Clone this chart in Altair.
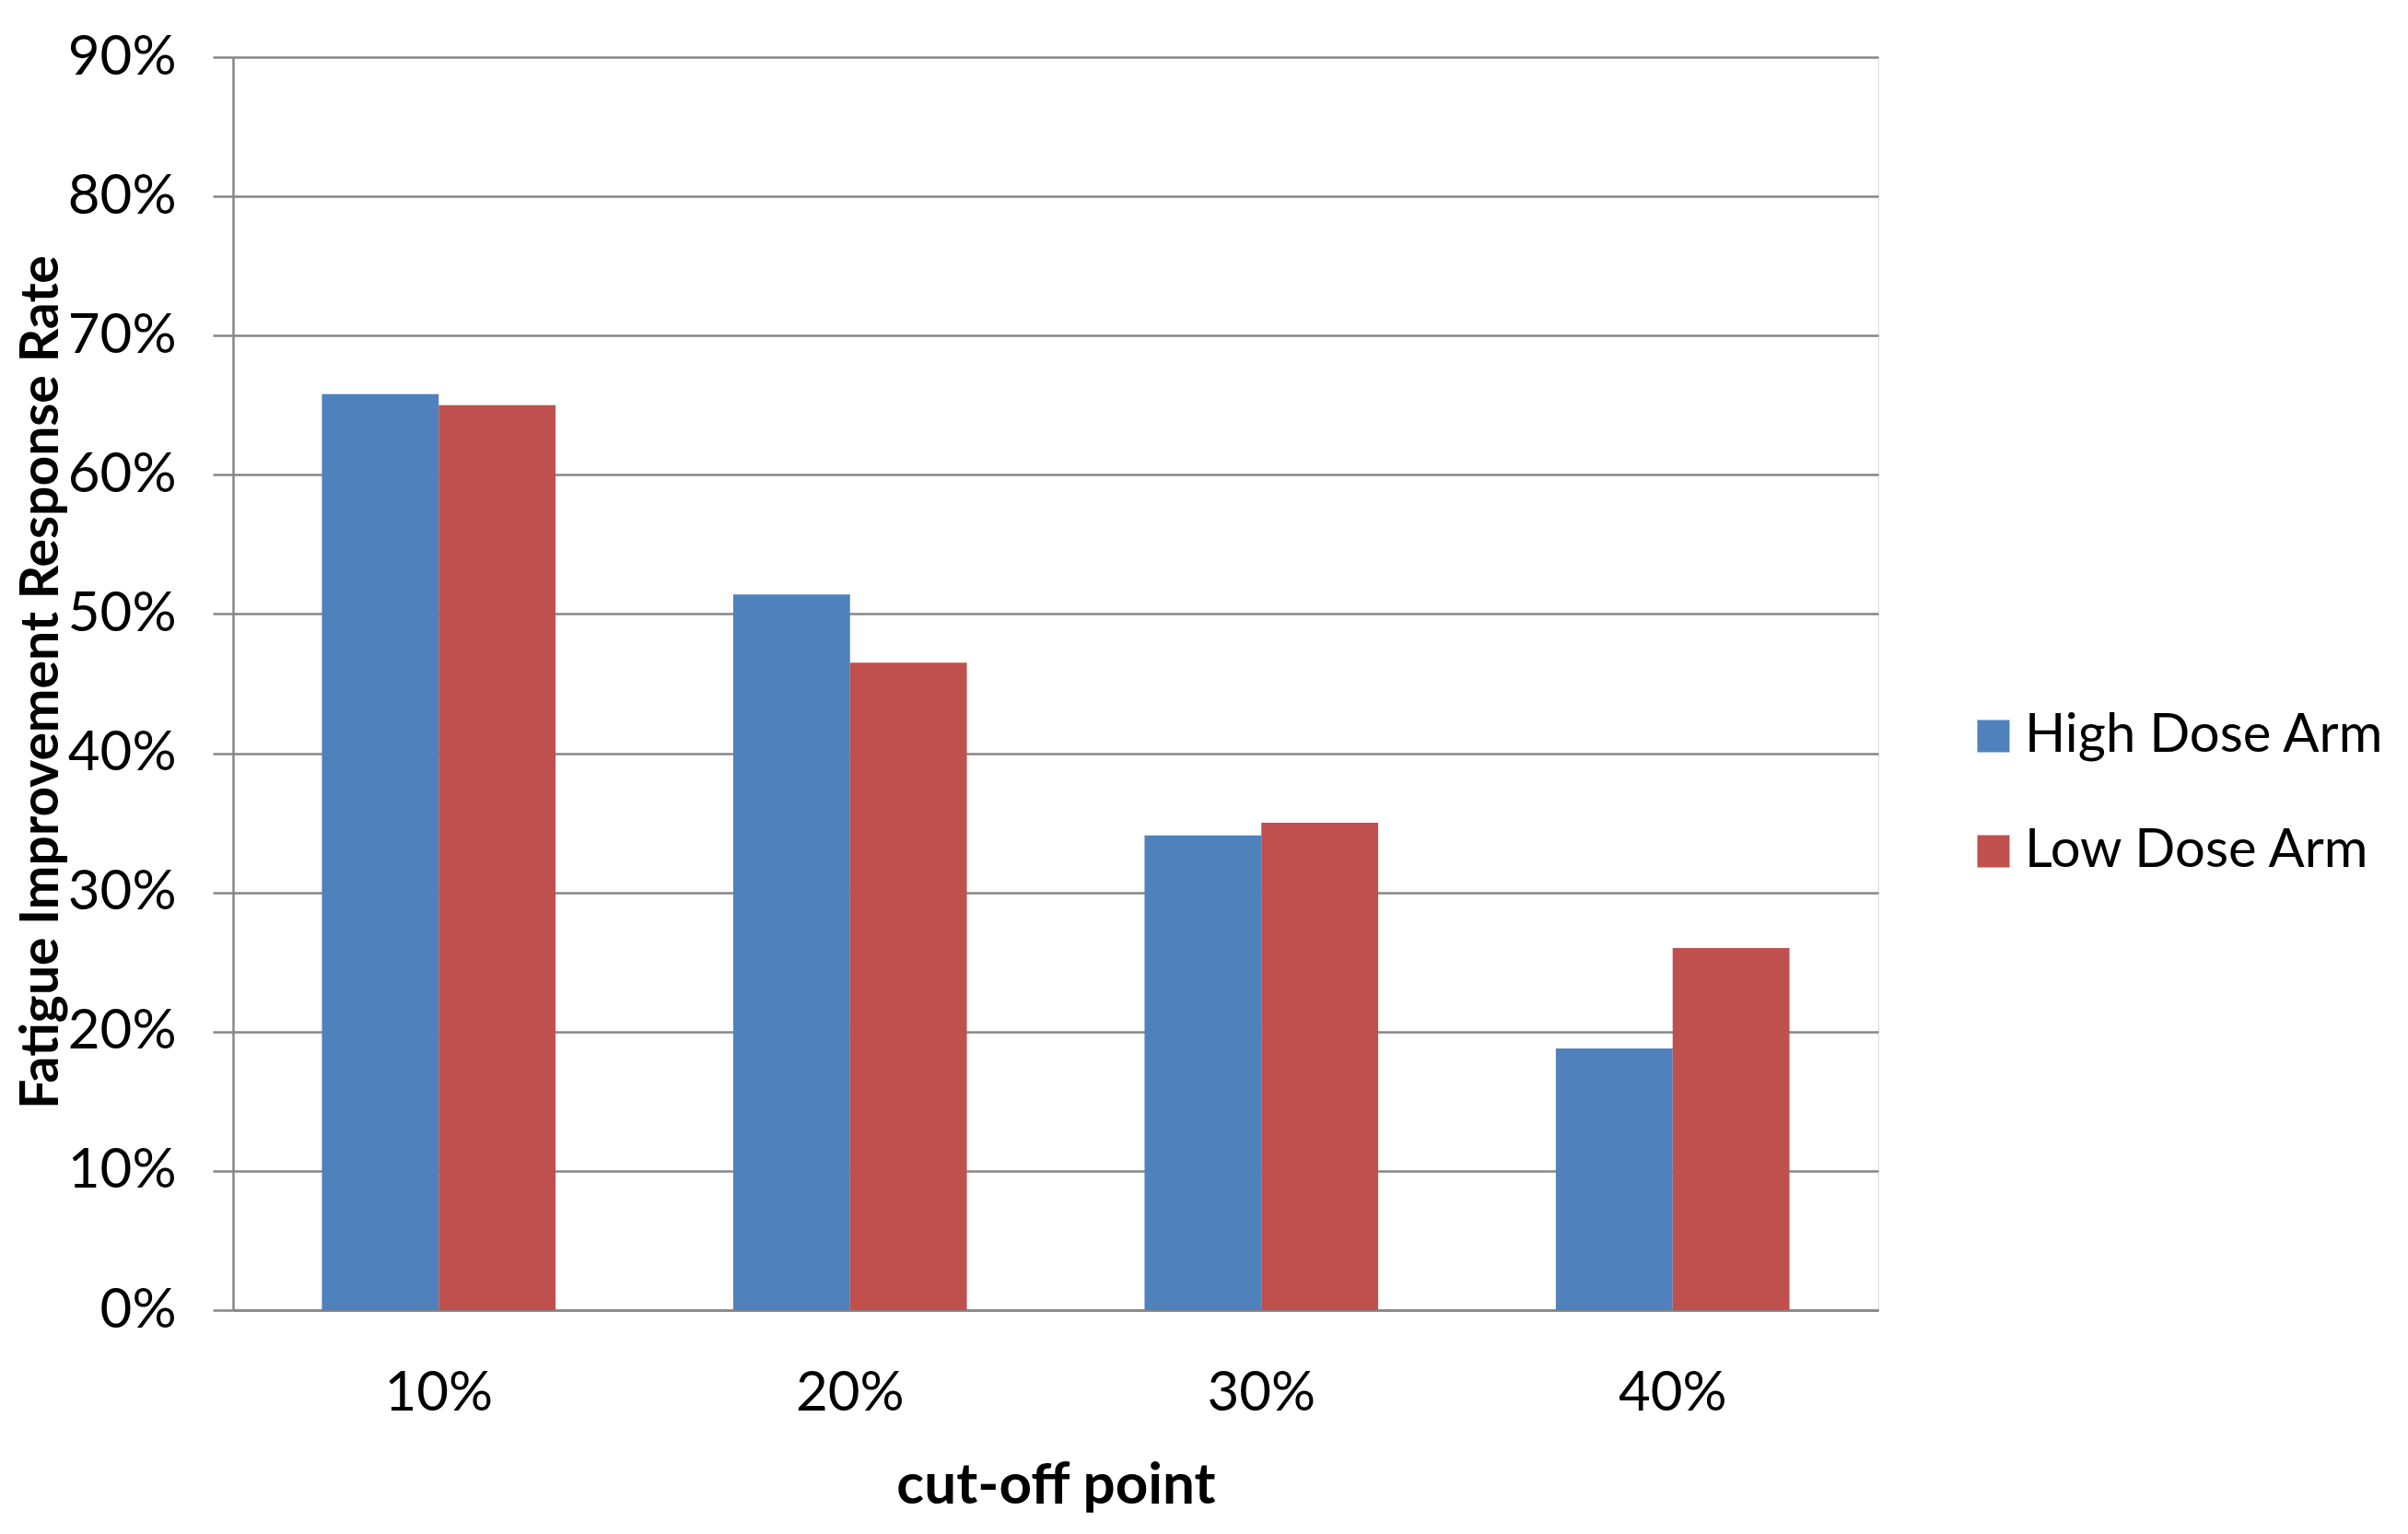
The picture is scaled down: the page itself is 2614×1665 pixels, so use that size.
import altair as alt
import pandas as pd

cutoffs = ["10%", "20%", "30%", "40%"]
arms = ["High Dose Arm", "Low Dose Arm"]
high_dose = [0.658, 0.514, 0.341, 0.188]
low_dose = [0.650, 0.465, 0.350, 0.260]
arm_colors = ["#4F81BD", "#C0504D"]
y_ticks = [0.0, 0.1, 0.2, 0.3, 0.4, 0.5, 0.6, 0.7, 0.8, 0.9]

rows = []
for c, h, l in zip(cutoffs, high_dose, low_dose):
    rows.append({"cutoff": c, "arm": arms[0], "rate": h})
    rows.append({"cutoff": c, "arm": arms[1], "rate": l})
df = pd.DataFrame(rows)

FONT = "Lato"
GRID = "#868686"

chart = alt.Chart(df).mark_bar().encode(
    x=alt.X(
        "cutoff:N",
        sort=cutoffs,
        scale=alt.Scale(paddingInner=0.432, paddingOuter=0.216),
        axis=alt.Axis(
            title="cut-off point",
            labelAngle=0,
            ticks=False,
            tickSize=0,
            labelPadding=90,
            labelBaseline="middle",
            labelFont=FONT,
            labelFontSize=60,
            labelColor="#000000",
            titleFont=FONT,
            titleFontSize=62,
            titleFontWeight="bold",
            titleColor="#000000",
            titleBaseline="middle",
            titleY=190,
            domainColor=GRID,
            domainWidth=2.5,
            grid=False,
        ),
    ),
    xOffset=alt.XOffset("arm:N", sort=arms, scale=alt.Scale(paddingInner=0, paddingOuter=0)),
    y=alt.Y(
        "rate:Q",
        scale=alt.Scale(domain=[0, 0.9], nice=False),
        axis=alt.Axis(
            title="Fatigue Improvement Response Rate",
            values=y_ticks,
            format=".0%",
            tickSize=22,
            tickColor=GRID,
            tickWidth=2.5,
            labelPadding=40,
            labelFont=FONT,
            labelFontSize=60,
            labelColor="#000000",
            gridColor=GRID,
            gridWidth=2.5,
            gridOpacity=1,
            domainColor=GRID,
            domainWidth=2.5,
            titleFont=FONT,
            titleFontSize=57,
            titleFontWeight="bold",
            titleColor="#000000",
            titleAngle=270,
            titleAlign="center",
            titleBaseline="middle",
            titleX=-208,
            titleY=678,
        ),
    ),
    color=alt.Color(
        "arm:N",
        sort=arms,
        scale=alt.Scale(domain=arms, range=arm_colors),
        legend=alt.Legend(
            title=None,
            orient="none",
            legendX=1882,
            legendY=708,
            symbolType="square",
            symbolSize=1225,
            symbolStrokeWidth=0,
            labelFont=FONT,
            labelFontSize=58,
            labelColor="#000000",
            labelOffset=5,
            labelLimit=0,
            rowPadding=67,
            padding=0,
        ),
    ),
).properties(
    width=1786,
    height=1360,
    autosize=alt.AutoSizeParams(type="none"),
    padding={"left": 245, "top": 54, "right": 567, "bottom": 230},
).configure_view(stroke=None).configure(background="white")

chart.save("out.html", embed_options={"renderer": "svg", "actions": False})
